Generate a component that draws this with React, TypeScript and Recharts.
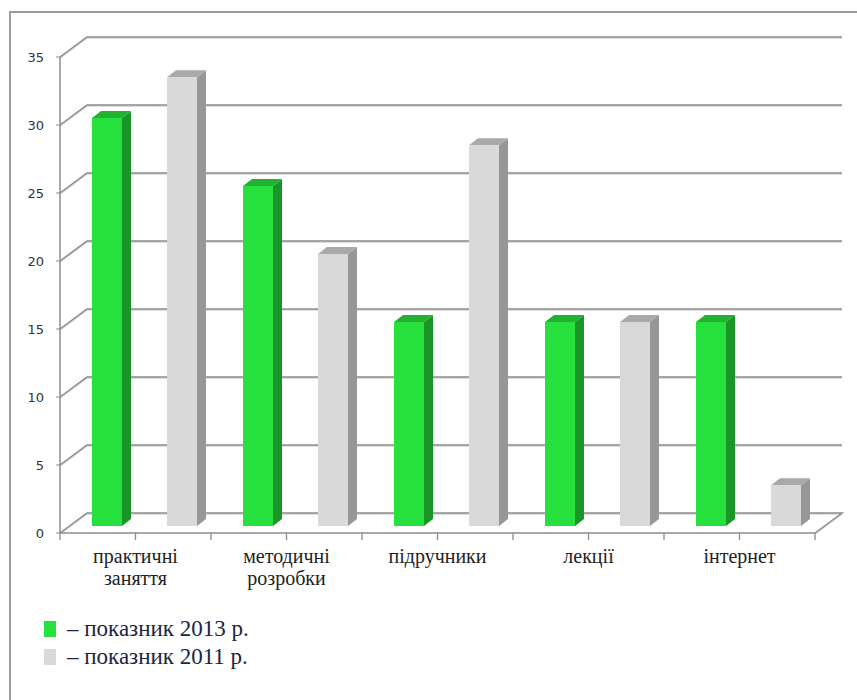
import React from "react";
import { BarChart, Bar, XAxis, YAxis, CartesianGrid } from "recharts";

// categories and values
const categories = ["практичні заняття", "методичні розробки", "підручники", "лекції", "інтернет"];
const values2013 = [30, 25, 15, 15, 15];
const values2011 = [33, 20, 28, 15, 3];
const yTicks = [0, 5, 10, 15, 20, 25, 30, 35];
const legendLabels = ["– показник 2013 р.", "– показник 2011 р."];

const data = categories.map((name, i) => ({ name, v2013: values2013[i], v2011: values2011[i] }));

// layout
const W = 857;
const H = 700;
const M = { top: 57, right: 42, bottom: 107, left: 0 };
const Y_AXIS_W = 60;
const X_AXIS_H = 60;
const PLOT_W = W - M.left - M.right - Y_AXIS_W;
const FLOOR_Y = H - M.bottom - X_AXIS_H;
const BAND = PLOT_W / categories.length;

// 3d depth of the wall and of each column
const WALL_DX = 27;
const WALL_DY = -20;
const COL_DX = 9;
const COL_DY = -7;

const GRID = "#8c8c8c";

const green = { front: "#26e03d", side: "#1a9628", top: "#21b232" };
const grey = { front: "#d9d9d9", side: "#979797", top: "#a9a9a9" };

const Column3D = (colors: { front: string; side: string; top: string }) => (props: any) => {
    const { x, y, width, height } = props;
    if (height == null || height <= 0) return <g />;
    const fx = x + COL_DX;
    const fy = y + COL_DY;
    const b = fy + height;
    return (
        <g>
            <polygon
                points={`${fx + width},${fy} ${fx + width + COL_DX},${fy + COL_DY} ${fx + width + COL_DX},${b + COL_DY} ${fx + width},${b}`}
                fill={colors.side}
            />
            <polygon
                points={`${fx},${fy} ${fx + COL_DX},${fy + COL_DY} ${fx + width + COL_DX},${fy + COL_DY} ${fx + width},${fy}`}
                fill={colors.top}
            />
            <rect x={fx} y={fy} width={width} height={height} fill={colors.front} />
        </g>
    );
};

const GridLine = (props: any) => {
    const { x1, y1, x2, index } = props;
    const isFloor = Math.abs(y1 - FLOOR_Y) < 1;
    let d = `M${x1},${y1} L${x1 + WALL_DX},${y1 + WALL_DY} L${x2 + WALL_DX},${y1 + WALL_DY}`;
    if (isFloor) d += ` L${x2},${y1}`;
    return (
        <g key={`grid-${index}-${y1}`}>
            <path d={d} transform="translate(0,1.2)" stroke="#d4d4d4" strokeWidth={1.2} fill="none" />
            <path d={d} stroke={GRID} strokeWidth={1.5} fill="none" />
        </g>
    );
};

const CategoryTick = (props: any) => {
    const { x, y, payload, index } = props;
    const lines = String(payload.value).split(" ");
    const axisY = y - 8;
    return (
        <g>
            <line x1={x - BAND / 2} y1={axisY} x2={x - BAND / 2} y2={axisY + 7} stroke={GRID} strokeWidth={1.3} />
            <line x1={x} y1={axisY} x2={x} y2={axisY + 7} stroke={GRID} strokeWidth={1.3} />
            {index === categories.length - 1 && (
                <line x1={x + BAND / 2} y1={axisY} x2={x + BAND / 2} y2={axisY + 7} stroke={GRID} strokeWidth={1.3} />
            )}
            <text
                x={x}
                y={axisY + 30}
                textAnchor="middle"
                fontFamily="'Liberation Serif', 'Times New Roman', serif"
                fontSize={20}
                fill="#222"
            >
                {lines.map((l, i) => (
                    <tspan key={i} x={x} dy={i === 0 ? 0 : 22}>
                        {l}
                    </tspan>
                ))}
            </text>
        </g>
    );
};

const LegendBox = () => (
    <div
        style={{
            position: "absolute",
            left: 44,
            top: 615,
            fontFamily: "'Liberation Serif', 'Times New Roman', serif",
            fontSize: 23,
            color: "#1c2640",
        }}
    >
        {[green.front, grey.front].map((c, i) => (
            <div key={i} style={{ display: "flex", alignItems: "center", height: 28 }}>
                <span style={{ display: "inline-block", width: 12, height: 16, background: c, marginRight: 11 }} />
                <span>{legendLabels[i]}</span>
            </div>
        ))}
    </div>
);

export default function App() {
    return (
        <div style={{ position: "absolute", left: 0, top: 0, width: W, height: H, overflow: "hidden", background: "#fff" }}>
            <div
                style={{
                    position: "absolute",
                    left: 9,
                    top: 11,
                    width: W,
                    height: H,
                    borderTop: "2px solid #9a9a9a",
                    borderLeft: "2px solid #9a9a9a",
                }}
            />
            <div style={{ position: "absolute", left: 0, top: 0 }}>
                <BarChart width={W} height={H} data={data} margin={M} barSize={30} barGap={45}>
                    <CartesianGrid vertical={false} horizontal={GridLine} />
                    <XAxis
                        dataKey="name"
                        height={X_AXIS_H}
                        axisLine={{ stroke: GRID, strokeWidth: 1.5 }}
                        tickLine={false}
                        interval={0}
                        tick={<CategoryTick />}
                    />
                    <YAxis
                        width={Y_AXIS_W}
                        domain={[0, 35]}
                        ticks={yTicks}
                        interval={0}
                        axisLine={{ stroke: GRID, strokeWidth: 1.5 }}
                        tickLine={{ stroke: GRID }}
                        tickSize={4}
                        tickMargin={12}
                        tick={{ fill: "#333", fontSize: 13, fontFamily: "'DejaVu Sans', Verdana, sans-serif" }}
                    />
                    <Bar dataKey="v2013" fill={green.front} shape={Column3D(green)} isAnimationActive={false} />
                    <Bar dataKey="v2011" fill={grey.front} shape={Column3D(grey)} isAnimationActive={false} />
                </BarChart>
            </div>
            <LegendBox />
        </div>
    );
}
